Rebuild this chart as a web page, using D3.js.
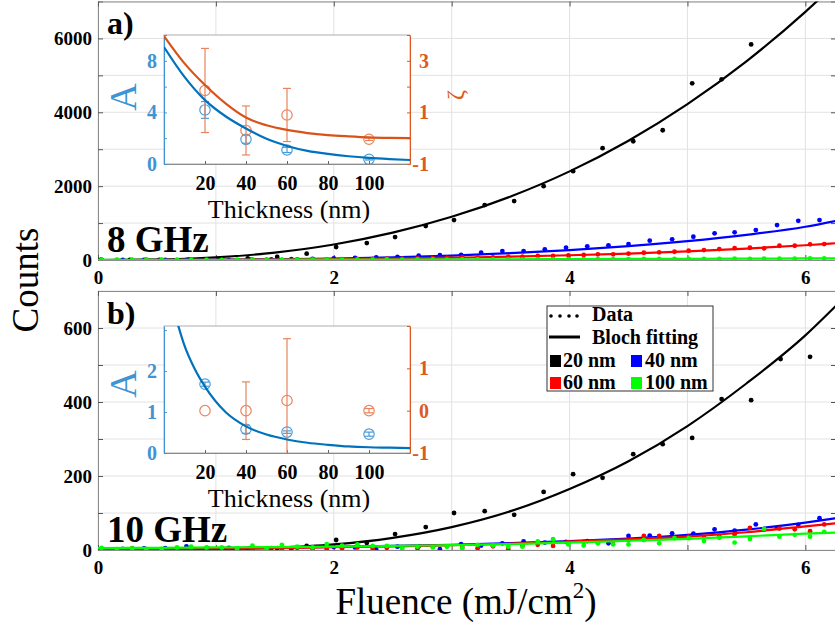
<!DOCTYPE html>
<html>
<head>
<meta charset="utf-8">
<script src="https://cdn.jsdelivr.net/npm/d3@7"></script>
<style>
  body { margin: 0; background: #fff; }
  text { font-family: "Liberation Serif", "Times New Roman", serif; }
</style>
</head>
<body>
<svg id="chart" width="835" height="626"></svg>
<script>
// ---- main panels: fluence (mJ/cm2) vs counts ----
var fluenceBlack = [0.02,0.27,0.52,0.77,1.02,1.27,1.52,1.77,2.02,2.28,2.52,2.78,3.02,3.28,3.53,3.78,4.03,4.28,4.54,4.79,5.04,5.29,5.54,5.79,6.04];
var fluenceBlue = [0.03,0.21,0.39,0.57,0.75,0.93,1.11,1.29,1.47,1.64,1.82,2.00,2.18,2.36,2.54,2.72,2.90,3.08,3.25,3.43,3.61,3.79,3.97,4.15,4.33,4.50,4.68,4.87,5.05,5.23,5.40,5.58,5.76,5.94,6.12];
var fluenceRG = [0.03,0.16,0.29,0.41,0.54,0.67,0.79,0.92,1.05,1.18,1.31,1.43,1.56,1.69,1.82,1.94,2.07,2.20,2.33,2.45,2.58,2.71,2.84,2.96,3.09,3.22,3.35,3.48,3.60,3.73,3.86,3.99,4.12,4.24,4.37,4.50,4.63,4.76,4.89,5.01,5.14,5.27,5.40,5.53,5.65,5.78,5.91,6.04,6.16];

// 8 GHz
var black8 = [0,2,4,8,20,45,81,170,351,459,622,919,1081,1486,1595,2000,2405,3027,3216,3514,4784,4892,5838];
var blue8 = [0,0,3,0,5,8,5,12,15,22,30,42,55,68,85,118,128,140,198,243,243,289,333,370,397,432,522,559,630,722,749,811,946,1062,1081];
var red8 = [0,5,0,8,3,0,5,2,6,4,8,10,6,14,18,16,24,28,30,35,38,45,50,56,73,73,73,89,89,108,108,127,135,154,154,170,197,208,224,251,270,297,324,332,316,386,386,424,432];
var green8 = [0,3,0,2,5,0,3,6,2,5,7,4,8,6,10,9,12,8,11,14,10,13,15,12,16,18,15,19,17,21,20,23,22,25,24,26,28,27,30,29,32,31,34,33,36,38,37,42,44];

// 10 GHz
var black10 = [0,1,0,2,1,3,5,11,27,19,43,62,100,105,95,157,205,195,259,286,303,408,405,516,522];
var blue10 = [2,3,4,5,10,5,6,4,5,1,6,8,7,1,9,10,2,16,12,18,23,20,22,24,18,38,39,45,44,56,52,69,60,68,86];
var red10 = [0,0,5,2,1,3,2,4,3,2,4,1,3,6,4,2,5,7,4,6,8,5,9,10,8,5,10,3,12,14,11,21,22,20,24,27,38,38,33,36,35,38,42,60,55,58,56,51,69];
var green10 = [6,2,4,2,3,7,9,7,7,4,12,4,14,9,7,16,12,15,11,11,4,9,7,9,5,14,12,9,9,23,29,15,12,18,15,15,27,18,32,32,24,33,20,30,57,36,41,36,49];

// Bloch fitting curves
var fitFluence = [0,0.5,1,1.5,2,2.5,3,3.5,4,4.5,5,5.5,6,6.26];
var fitBlack8 = [0,12,70,200,420,740,1170,1720,2400,3230,4220,5380,6720,7490];
var fitBlue8 = [0,2,8,20,40,72,120,185,270,375,510,680,900,1060];
var fitRed8 = [0,1,5,12,24,40,62,90,128,175,235,310,400,455];
var fitGreen8 = [2,3,5,7,10,13,16,20,24,28,32,37,42,45];
var fitBlack10 = [0,0.5,2,6,15,33,62,105,165,240,335,450,580,660];
var fitBlue10 = [3,4,5,6.5,8.5,11,14,18.5,24,31,41,55,74,86];
var fitRed10 = [2,3,4,5,8,10,13,17,23,29,36,48,64,72];
var fitGreen10 = [5,6,7,8,9,11,13,16,20,25,30,37,44,47];

var fluenceTicks = [0,1,2,3,4,5,6];
var fluenceLabels = [0,2,4,6];
var countTicks8 = [0,1000,2000,3000,4000,5000,6000,7000];
var countLabels8 = [0,2000,4000,6000];
var countTicks10 = [0,100,200,300,400,500,600,700];
var countLabels10 = [0,200,400,600];

// ---- insets: thickness (nm) vs A and zeta ----
var thickness = [20,40,60,100];
var amp8 = [4.19,1.91,1.09,0.36];
var ampErr8 = [0.65,0.3,0.2,0.05];
var xi8 = [1.85,0.3,0.9,-0.04];
var xiErr8 = [1.63,0.95,1.03,0.05];
var amp10 = [1.68,0.58,0.51,0.46];
var ampErr10 = [0.05,0.1,0.03,0.05];
var xi10 = [0.0,0.0,0.24,0.0];
var xiErr10 = [0.0,0.68,1.46,0.05];

var fitThick8 = [0,10,20,30,40,50,60,70,80,90,100,110,120];
var ampFit8 = [9.07,6.75,4.95,3.7,2.75,1.95,1.4,1.02,0.78,0.6,0.47,0.38,0.31];
var xiFit8 = [3.96,2.9,2.06,1.35,0.8,0.5,0.32,0.2,0.12,0.07,0.03,0.01,0.0];
var fitThick10 = [5,10,15,20,30,40,50,60,70,80,90,100,110,120];
var ampFit10 = [3.45,2.62,2.05,1.62,1.0,0.65,0.45,0.33,0.25,0.2,0.16,0.14,0.13,0.12];

var thickTicks = [20,40,60,80,100];

var svg = d3.select("#chart");
svg.append("rect").attr("width", 835).attr("height", 626).attr("fill", "#fff");

var x = d3.scaleLinear().domain([0, 6.26]).range([98, 836]);
var y8 = d3.scaleLinear().domain([0, 7000]).range([260, 1.5]);
var y10 = d3.scaleLinear().domain([0, 700]).range([550, 291]);

var gridColor = "#e2e2e2", boxColor = "#8c8c8c";

function styleAxis(g) {
    g.select(".domain").attr("stroke", boxColor);
    g.selectAll(".tick line").attr("stroke", "#555");
    g.selectAll(".tick text").attr("fill", "#000").style("font-size", "19px").style("font-weight", "bold");
}

function drawPanel(y, countTicks, countLabels, series, clipId) {
    var left = x.range()[0], right = x.range()[1];
    var bottom = y.range()[0], top = y.range()[1];
    var g = svg.append("g");

    g.append("clipPath").attr("id", clipId).append("rect")
        .attr("x", left).attr("y", top).attr("width", right - left).attr("height", bottom - top);

    // grid
    g.selectAll(".gx").data(fluenceTicks).join("line")
        .attr("x1", function(d) { return x(d); }).attr("x2", function(d) { return x(d); })
        .attr("y1", top).attr("y2", bottom)
        .attr("stroke", gridColor).attr("stroke-width", 1);
    g.selectAll(".gy").data(countTicks).join("line")
        .attr("x1", left).attr("x2", right)
        .attr("y1", function(d) { return y(d); }).attr("y2", function(d) { return y(d); })
        .attr("stroke", gridColor).attr("stroke-width", 1);

    // axes, ticks inward like matlab
    g.append("g").attr("transform", "translate(" + left + ",0)")
        .call(d3.axisLeft(y).tickValues(countTicks).tickSizeInner(-5).tickSizeOuter(0).tickPadding(6)
            .tickFormat(function(d) { return countLabels.indexOf(d) >= 0 ? d : ""; }))
        .call(styleAxis);
    g.append("g").attr("transform", "translate(" + right + ",0)")
        .call(d3.axisRight(y).tickValues(countTicks).tickSizeInner(-5).tickSizeOuter(0).tickFormat(""))
        .call(styleAxis);
    g.append("g").attr("transform", "translate(0," + bottom + ")")
        .call(d3.axisBottom(x).tickValues(fluenceTicks).tickSizeInner(-5).tickSizeOuter(0).tickPadding(10.5)
            .tickFormat(function(d) { return fluenceLabels.indexOf(d) >= 0 ? d : ""; }))
        .call(styleAxis);
    g.append("g").attr("transform", "translate(0," + top + ")")
        .call(d3.axisTop(x).tickValues(fluenceTicks).tickSizeInner(-5).tickSizeOuter(0).tickFormat(""))
        .call(styleAxis);

    var plot = g.append("g").attr("clip-path", "url(#" + clipId + ")");
    var line = d3.line()
        .x(function(d) { return x(d[0]); })
        .y(function(d) { return y(d[1]); })
        .curve(d3.curveMonotoneX);

    series.forEach(function(s) {
        plot.append("path")
            .datum(d3.zip(fitFluence, s.fit))
            .attr("d", line)
            .attr("fill", "none")
            .attr("stroke", s.color)
            .attr("stroke-width", 2.2);
        plot.append("g").selectAll("circle")
            .data(s.counts.map(function(c, i) { return [s.fluence[i], c]; }))
            .join("circle")
            .attr("cx", function(d) { return x(d[0]); })
            .attr("cy", function(d) { return y(d[1]); })
            .attr("r", 2.4)
            .attr("fill", s.color);
    });
    return g;
}

drawPanel(y8, countTicks8, countLabels8, [
    { fluence: fluenceBlack, counts: black8, fit: fitBlack8, color: "#000" },
    { fluence: fluenceBlue, counts: blue8, fit: fitBlue8, color: "#0000ff" },
    { fluence: fluenceRG, counts: red8, fit: fitRed8, color: "#ff0000" },
    { fluence: fluenceRG, counts: green8, fit: fitGreen8, color: "#00ff00" }
], "clip8");

drawPanel(y10, countTicks10, countLabels10, [
    { fluence: fluenceBlack, counts: black10, fit: fitBlack10, color: "#000" },
    { fluence: fluenceBlue, counts: blue10, fit: fitBlue10, color: "#0000ff" },
    { fluence: fluenceRG, counts: red10, fit: fitRed10, color: "#ff0000" },
    { fluence: fluenceRG, counts: green10, fit: fitGreen10, color: "#00ff00" }
], "clip10");

// ---- insets ----
var blueAxis = "#3f94d3", blueFit = "#0072bd", blueMark = "#4a9cd8";
var orangeAxis = "#dc5a22", orangeFit = "#d95319", orangeMark = "#e8845e";

function drawInset(o) {
    var tx = d3.scaleLinear().domain([0, 120]).range([164, 410]);
    var ya = d3.scaleLinear().domain(o.ampDomain).range([o.bottom, o.top]);
    var yx = d3.scaleLinear().domain(o.xiDomain).range([o.bottom, o.top]);
    var g = svg.append("g");

    g.append("rect").attr("x", 164).attr("y", o.top).attr("width", 246).attr("height", o.bottom - o.top)
        .attr("fill", "#fff").attr("stroke", "#9a9a9a").attr("stroke-width", 0.8);
    g.append("clipPath").attr("id", o.clipId).append("rect")
        .attr("x", 164).attr("y", o.top).attr("width", 246).attr("height", o.bottom - o.top);

    g.append("g").attr("transform", "translate(0," + o.bottom + ")")
        .call(d3.axisBottom(tx).tickValues(thickTicks).tickSizeInner(-3).tickSizeOuter(0).tickPadding(11.5))
        .call(function(a) {
            a.select(".domain").attr("stroke", "#8a8a8a");
            a.selectAll(".tick line").attr("stroke", "#666");
            a.selectAll(".tick text").attr("fill", "#000").style("font-size", "20px").style("font-weight", "bold");
        });
    g.append("g").attr("transform", "translate(164,0)")
        .call(d3.axisLeft(ya).tickValues(o.ampTicks).tickSizeInner(-3).tickSizeOuter(0).tickPadding(7)
            .tickFormat(function(d) { return o.ampLabels.indexOf(d) >= 0 ? String(d) : ""; }))
        .call(function(a) {
            a.select(".domain").attr("stroke", blueAxis);
            a.selectAll(".tick line").attr("stroke", blueAxis);
            a.selectAll(".tick text").attr("fill", blueAxis).style("font-size", "20px").style("font-weight", "bold");
        });
    g.append("g").attr("transform", "translate(410,0)")
        .call(d3.axisRight(yx).tickValues(o.xiTicks).tickSizeInner(-3).tickSizeOuter(0)
            .tickFormat(function(d) { return o.xiLabels.indexOf(d) >= 0 ? String(d) : ""; }))
        .call(function(a) {
            a.select(".domain").attr("stroke", orangeAxis);
            a.selectAll(".tick line").attr("stroke", orangeAxis);
            a.selectAll(".tick text").attr("fill", orangeAxis).attr("text-anchor", "end").attr("x", 19)
                .style("font-size", "20px").style("font-weight", "bold");
        });

    var plot = g.append("g").attr("clip-path", "url(#" + o.clipId + ")");

    function marks(vals, errs, scale, color) {
        var pts = thickness.map(function(t, i) { return { t: t, v: vals[i], e: errs[i] }; });
        var eg = plot.append("g").attr("stroke", color).attr("stroke-width", 1.2).attr("fill", "none");
        pts.forEach(function(p) {
            if (p.e <= 0) return;
            var cx = tx(p.t);
            eg.append("line").attr("x1", cx).attr("x2", cx).attr("y1", scale(p.v - p.e)).attr("y2", scale(p.v + p.e));
            eg.append("line").attr("x1", cx - 4).attr("x2", cx + 4).attr("y1", scale(p.v - p.e)).attr("y2", scale(p.v - p.e));
            eg.append("line").attr("x1", cx - 4).attr("x2", cx + 4).attr("y1", scale(p.v + p.e)).attr("y2", scale(p.v + p.e));
        });
        eg.selectAll("circle").data(pts).join("circle")
            .attr("cx", function(d) { return tx(d.t); })
            .attr("cy", function(d) { return scale(d.v); })
            .attr("r", 5.2);
    }

    function fitLine(ts, vals, scale, color) {
        plot.append("path")
            .datum(d3.zip(ts, vals))
            .attr("d", d3.line().x(function(d) { return tx(d[0]); }).y(function(d) { return scale(d[1]); }).curve(d3.curveMonotoneX))
            .attr("fill", "none").attr("stroke", color).attr("stroke-width", 2.2);
    }

    marks(o.amp, o.ampErr, ya, blueMark);
    marks(o.xi, o.xiErr, yx, orangeMark);
    fitLine(o.fitT, o.ampFit, ya, blueFit);
    if (o.xiFit) fitLine(o.fitT, o.xiFit, yx, orangeFit);

    g.append("text").attr("x", 289).attr("y", o.bottom + 54).attr("text-anchor", "middle")
        .style("font-size", "26px").text("Thickness (nm)");
    g.append("text").attr("transform", "translate(136," + o.aY + ") rotate(-90)")
        .attr("text-anchor", "middle").attr("fill", blueAxis).style("font-size", "38px").text("A");
    if (o.xiLabel) {
        g.append("text").attr("transform", "translate(463,95) rotate(-90)")
            .attr("text-anchor", "middle").attr("fill", orangeAxis).style("font-size", "24px").text("ζ");
    }
}

drawInset({
    top: 35, bottom: 164, clipId: "in8",
    ampDomain: [0, 10], ampTicks: [0,2,4,6,8,10], ampLabels: [0,4,8],
    xiDomain: [-1, 4], xiTicks: [-1,0,1,2,3,4], xiLabels: [-1,1,3],
    amp: amp8, ampErr: ampErr8, xi: xi8, xiErr: xiErr8,
    fitT: fitThick8, ampFit: ampFit8, xiFit: xiFit8,
    aY: 97, xiLabel: true
});
drawInset({
    top: 326, bottom: 453, clipId: "in10",
    ampDomain: [0, 3.1], ampTicks: [0,1,2,3], ampLabels: [0,1,2],
    xiDomain: [-1, 2], xiTicks: [-1,0,1,2], xiLabels: [-1,0,1],
    amp: amp10, ampErr: ampErr10, xi: xi10, xiErr: xiErr10,
    fitT: fitThick10, ampFit: ampFit10,
    aY: 384, xiLabel: false
});

// ---- legend ----
var lg = svg.append("g");
lg.append("rect").attr("x", 547).attr("y", 306).attr("width", 166).attr("height", 85)
    .attr("fill", "#fff").attr("stroke", "#333").attr("stroke-width", 1);
lg.selectAll(".dot").data([551, 560, 569, 577]).join("circle")
    .attr("cx", function(d) { return d; }).attr("cy", 316).attr("r", 1.8).attr("fill", "#000");
lg.append("line").attr("x1", 549).attr("x2", 580).attr("y1", 337).attr("y2", 337)
    .attr("stroke", "#000").attr("stroke-width", 3);
var legendText = [
    { t: "Data", x: 592, y: 321 },
    { t: "Bloch fitting", x: 592, y: 344 },
    { t: "20 nm", x: 563, y: 367 },
    { t: "40 nm", x: 645, y: 367 },
    { t: "60 nm", x: 563, y: 389 },
    { t: "100 nm", x: 645, y: 389 }
];
lg.selectAll("text").data(legendText).join("text")
    .attr("x", function(d) { return d.x; }).attr("y", function(d) { return d.y; })
    .style("font-size", "20px").style("font-weight", "bold").text(function(d) { return d.t; });
var legendSq = [
    { x: 550, y: 355, c: "#000" }, { x: 631, y: 355, c: "#0000ff" },
    { x: 550, y: 377, c: "#ff0000" }, { x: 631, y: 377, c: "#00ff00" }
];
lg.selectAll(".sq").data(legendSq).join("rect")
    .attr("x", function(d) { return d.x; }).attr("y", function(d) { return d.y; })
    .attr("width", 11).attr("height", 12).attr("fill", function(d) { return d.c; });

// ---- labels ----
svg.append("text").attr("x", 107).attr("y", 34).style("font-size", "32px").style("font-weight", "bold").text("a)");
svg.append("text").attr("x", 107).attr("y", 324).style("font-size", "32px").style("font-weight", "bold").text("b)");
svg.append("text").attr("x", 107).attr("y", 252).style("font-size", "37px").style("font-weight", "bold").text("8 GHz");
svg.append("text").attr("x", 107).attr("y", 542).style("font-size", "37px").style("font-weight", "bold").text("10 GHz");

svg.append("text").attr("transform", "translate(38,280) rotate(-90)").attr("text-anchor", "middle")
    .style("font-size", "37px").text("Counts");
var xl = svg.append("text").attr("x", 466).attr("y", 614).attr("text-anchor", "middle").style("font-size", "37px");
xl.append("tspan").text("Fluence (mJ/cm");
xl.append("tspan").attr("dy", -16).style("font-size", "23px").text("2");
xl.append("tspan").attr("dy", 16).text(")");
</script>
</body>
</html>
